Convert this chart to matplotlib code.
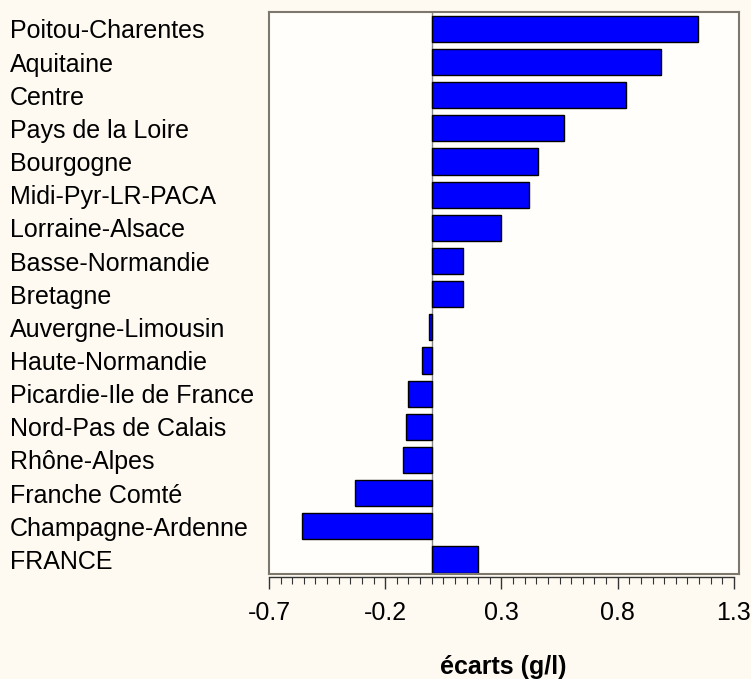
import matplotlib.pyplot as plt
from matplotlib.ticker import MultipleLocator, FixedLocator, FixedFormatter

plt.rcParams['font.family'] = ['Liberation Sans', 'DejaVu Sans']

regions = ['Poitou-Charentes', 'Aquitaine', 'Centre', 'Pays de la Loire',
           'Bourgogne', 'Midi-Pyr-LR-PACA', 'Lorraine-Alsace', 'Basse-Normandie',
           'Bretagne', 'Auvergne-Limousin', 'Haute-Normandie',
           'Picardie-Ile de France', 'Nord-Pas de Calais', 'Rhône-Alpes',
           'Franche Comté', 'Champagne-Ardenne', 'FRANCE']
ecarts = [1.147, 0.987, 0.837, 0.57, 0.457, 0.419, 0.298, 0.135,
          0.135, -0.012, -0.04, -0.102, -0.112, -0.124, -0.331, -0.558, 0.199]
xticks = [-0.7, -0.2, 0.3, 0.8, 1.3]

W, H = 751, 679
FS = 18
fig = plt.figure(figsize=(W / 100, H / 100), dpi=100, facecolor='#FEFAF2')
ax = fig.add_axes([269 / W, 1 - 574 / H, 470 / W, 562 / H])
ax.set_facecolor('#FFFEFB')

ypos = list(range(len(regions)))
ax.barh(ypos, ecarts, height=0.79, color='#0000FF', edgecolor='black', linewidth=1.0, zorder=3)
ax.axvline(0, color='#8a8a8a', linewidth=1.0, zorder=2)

ax.set_xlim(-0.7, 1.322)
ax.set_ylim(len(regions) - 1 + 0.44, -0.51)

# region names, left aligned at the figure edge
ax.set_yticks(ypos)
ax.set_yticklabels(regions, ha='left')
ax.tick_params(axis='y', length=0, pad=259 * 0.72, labelsize=FS)

# x axis: separate line below the frame with major/minor ticks
ax.xaxis.set_major_locator(FixedLocator(xticks))
ax.xaxis.set_major_formatter(FixedFormatter([f'{v:.1f}' for v in xticks]))
ax.xaxis.set_minor_locator(MultipleLocator(0.05))
ax.tick_params(axis='x', which='major', length=8.6, width=1.0, color='#333333',
               pad=9, labelsize=FS)
ax.tick_params(axis='x', which='minor', length=5, width=0.8, color='#333333')

frame_col = '#7d776c'
for s in ['top', 'left', 'right']:
    ax.spines[s].set_color(frame_col)
    ax.spines[s].set_linewidth(1.5)
ax.spines['bottom'].set_position(('outward', 2.2))
ax.spines['bottom'].set_bounds(-0.7, 1.3)
ax.spines['bottom'].set_color('#333333')
ax.spines['bottom'].set_linewidth(1.0)
ax.plot([0, 1], [0, 0], transform=ax.transAxes, color=frame_col, linewidth=1.5,
        clip_on=False, zorder=5)

fig.text(503 / W, 1 - 667 / H, 'écarts (g/l)', fontsize=FS, fontweight='bold',
         ha='center', va='center')

fig.savefig('out.png', dpi=100, facecolor=fig.get_facecolor())
